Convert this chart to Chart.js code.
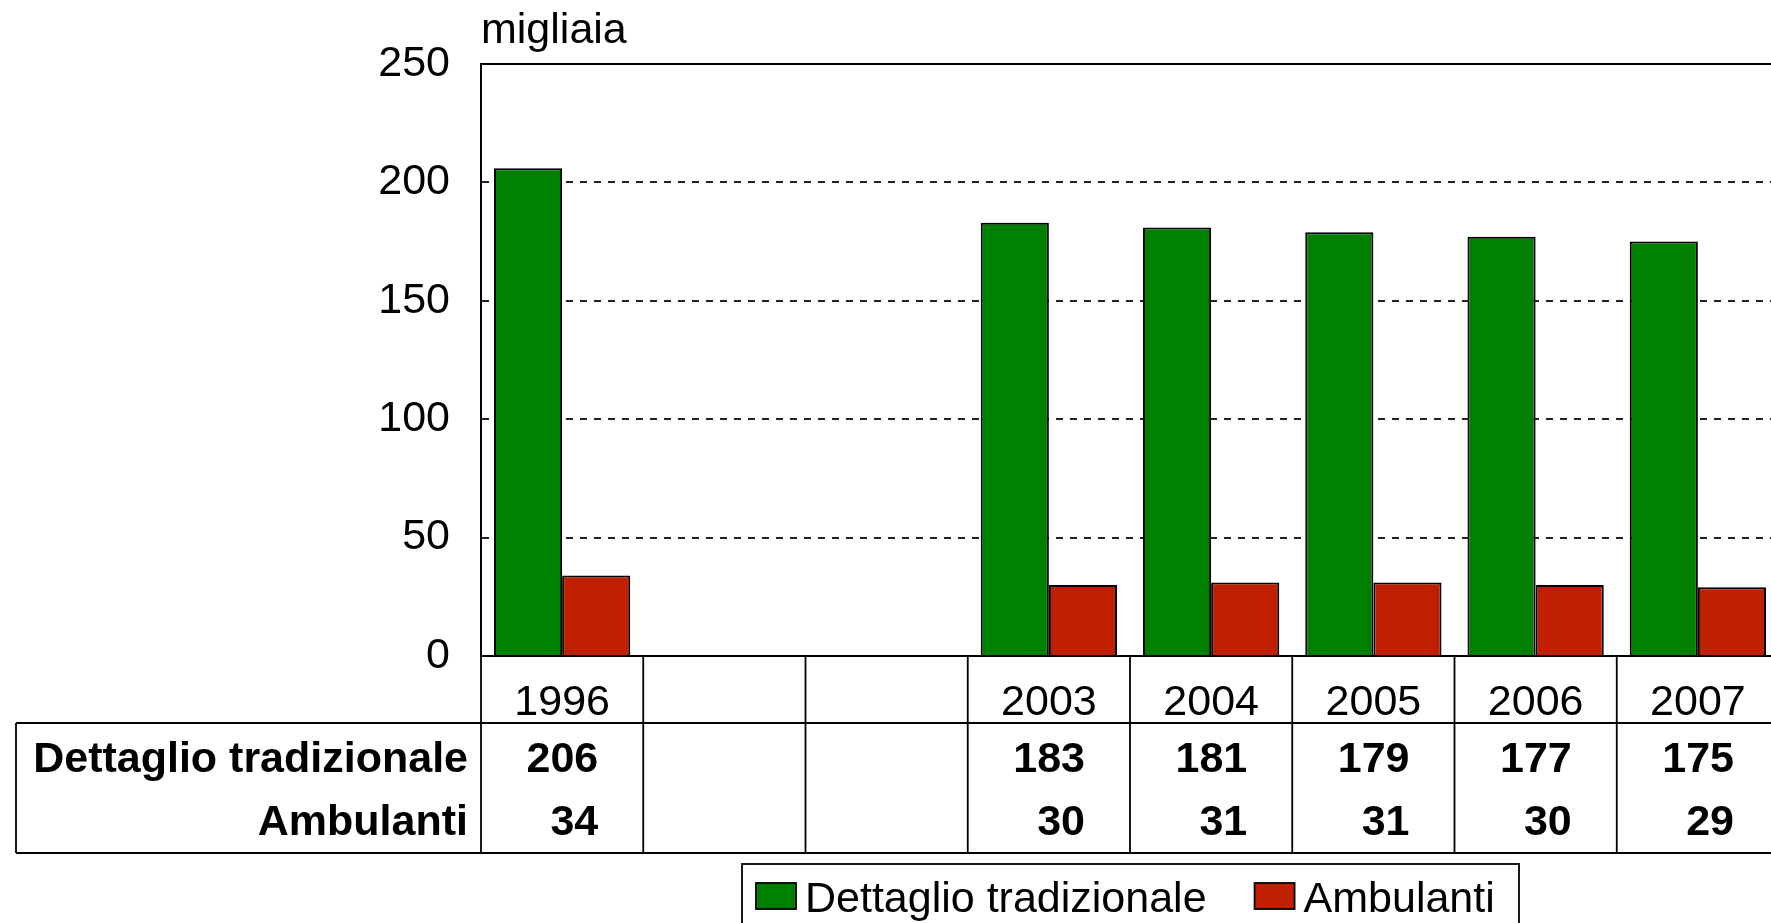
<!DOCTYPE html>
<html lang="it">
<head>
<meta charset="UTF-8">
<title>Dettaglio tradizionale e ambulanti</title>
<script src="https://cdn.jsdelivr.net/npm/chart.js"></script>
<style>
  body { margin: 0; background: #fff; }
  #wrap { width: 1771px; height: 923px; overflow: hidden; }
</style>
</head>
<body>
<div id="wrap"><canvas id="chart" width="1800" height="923"></canvas></div>
<script>
// data (migliaia)
const anni = ['1996', '', '', '2003', '2004', '2005', '2006', '2007'];
const dettaglio = [206, null, null, 183, 181, 179, 177, 175];
const ambulanti = [34, null, null, 30, 31, 31, 30, 29];
const yTicks = [0, 50, 100, 150, 200, 250];
const serieNomi = ['Dettaglio tradizionale', 'Ambulanti'];
const unita = 'migliaia';

const FONT = '"Liberation Sans", Arial, sans-serif';
const FSIZE = 43;

// frame top line + unit label
const cornice = {
    id: 'cornice',
    beforeDatasetsDraw(chart) {
        const ctx = chart.ctx, a = chart.chartArea;
        ctx.save();
        ctx.strokeStyle = '#000';
        ctx.lineWidth = 2;
        ctx.beginPath();
        ctx.moveTo(a.left, a.top);
        ctx.lineTo(a.right, a.top);
        ctx.stroke();
        ctx.fillStyle = '#000';
        ctx.font = FSIZE + 'px ' + FONT;
        ctx.textAlign = 'left';
        ctx.textBaseline = 'alphabetic';
        ctx.fillText(unita, a.left, 43);
        ctx.restore();
    }
};

// data table under the axis + legend box
const tabella = {
    id: 'tabella',
    afterDraw(chart) {
        const ctx = chart.ctx, a = chart.chartArea, xs = chart.scales.x;
        const n = chart.data.labels.length;
        const step = (a.right - a.left) / n;
        const rowMid = 723, rowBot = 853, tabLeft = 16;

        ctx.save();
        ctx.strokeStyle = '#000';
        ctx.lineWidth = 1.8;
        ctx.beginPath();
        ctx.moveTo(tabLeft, rowMid); ctx.lineTo(a.right, rowMid);
        ctx.moveTo(tabLeft, rowBot); ctx.lineTo(a.right, rowBot);
        ctx.moveTo(tabLeft, rowMid); ctx.lineTo(tabLeft, rowBot);
        for (let i = 0; i <= n; i++) {
            const xx = xs.getPixelForValue(Math.min(i, n - 1)) + (i === n ? step / 2 : -step / 2);
            ctx.moveTo(xx, a.bottom); ctx.lineTo(xx, rowBot);
        }
        ctx.stroke();

        ctx.fillStyle = '#000';
        // years
        ctx.font = FSIZE + 'px ' + FONT;
        ctx.textAlign = 'center';
        ctx.textBaseline = 'alphabetic';
        chart.data.labels.forEach((l, i) => {
            ctx.fillText(l, xs.getPixelForValue(i), 715);
        });

        // series names and values
        ctx.font = 'bold ' + FSIZE + 'px ' + FONT;
        const base = [772, 835];
        chart.data.datasets.forEach((ds, k) => {
            ctx.textAlign = 'right';
            ctx.fillText(ds.label, a.left - 13, base[k]);
            ds.data.forEach((v, i) => {
                if (v === null) return;
                ctx.fillText(String(v), xs.getPixelForValue(i) + step / 2 - 45, base[k]);
            });
        });

        // legend
        ctx.font = FSIZE + 'px ' + FONT;
        ctx.textAlign = 'left';
        ctx.lineWidth = 1.8;
        ctx.strokeRect(742, 864, 777, 100);
        let lx = 756;
        chart.data.datasets.forEach(ds => {
            ctx.fillStyle = ds.backgroundColor;
            ctx.fillRect(lx, 883, 40, 26);
            ctx.strokeRect(lx, 883, 40, 26);
            ctx.fillStyle = '#000';
            ctx.fillText(ds.label, lx + 49, 912);
            lx += 49 + ctx.measureText(ds.label).width + 48;
        });
        ctx.restore();
    }
};

const ctx = document.getElementById('chart').getContext('2d');
new Chart(ctx, {
    type: 'bar',
    data: {
        labels: anni,
        datasets: [{
            label: serieNomi[0],
            data: dettaglio,
            backgroundColor: '#008000',
            borderColor: '#000',
            borderWidth: 2
        }, {
            label: serieNomi[1],
            data: ambulanti,
            backgroundColor: '#C02000',
            borderColor: '#000',
            borderWidth: 2
        }]
    },
    options: {
        responsive: false,
        devicePixelRatio: 1,
        animation: false,
        categoryPercentage: 0.84,
        barPercentage: 1.0,
        layout: { padding: { top: 64, right: 21, left: 0, bottom: 0 } },
        plugins: {
            legend: { display: false },
            tooltip: { enabled: false }
        },
        scales: {
            x: {
                grid: { display: false },
                ticks: { display: false },
                border: { color: '#000', width: 2 },
                afterFit: s => { s.height = 923 - 656; }
            },
            y: {
                min: 0,
                max: 250,
                afterBuildTicks: s => { s.ticks = yTicks.map(v => ({ value: v })); },
                ticks: {
                    color: '#000',
                    padding: 31,
                    font: { family: FONT, size: FSIZE }
                },
                grid: {
                    drawTicks: false,
                    lineWidth: 2,
                    color: c => (c.tick && (c.tick.value === 0 || c.tick.value === 250)) ? 'rgba(0,0,0,0)' : '#222'
                },
                border: { color: '#000', width: 2, dash: [7, 7] },
                afterFit: s => { s.width = 481; }
            }
        }
    },
    plugins: [cornice, tabella]
});
</script>
</body>
</html>
